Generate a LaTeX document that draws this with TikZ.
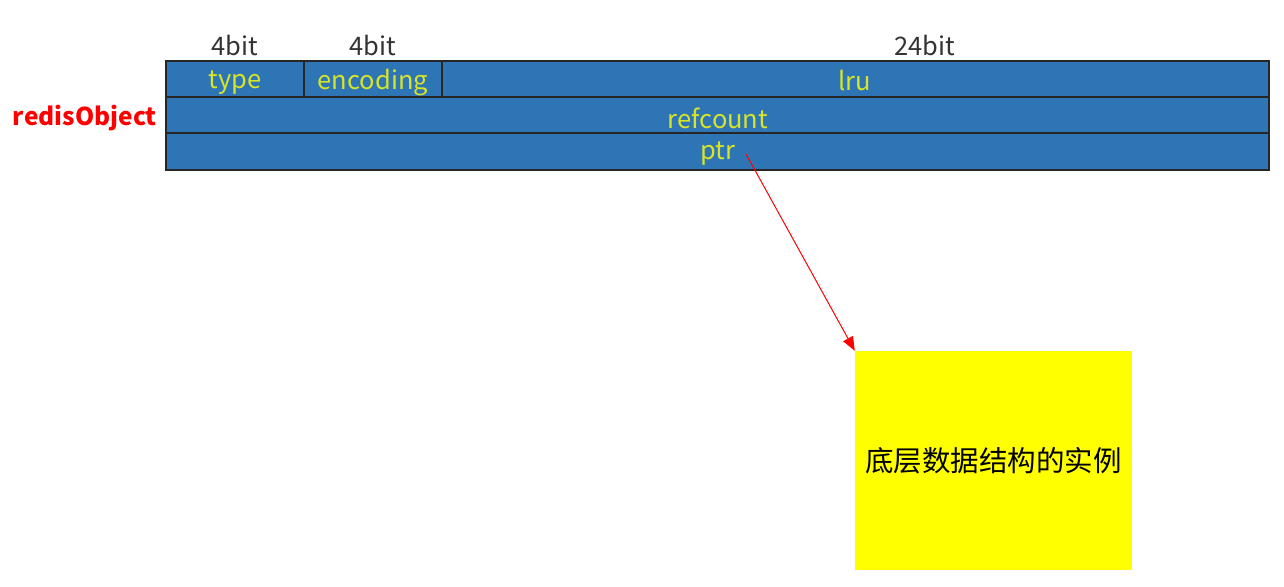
\documentclass[tikz,border=0pt]{standalone}
\usepackage{fontspec}
\setmainfont{Noto Sans CJK SC}
\newfontfamily\cjk{Noto Sans CJK SC}
\usetikzlibrary{arrows.meta}
\definecolor{cellblue}{RGB}{46,117,182}
\definecolor{celltext}{RGB}{215,228,40}
\definecolor{boxyellow}{RGB}{255,255,0}
\begin{document}
\begin{tikzpicture}[x=1pt,y=-1pt,
  cell/.style={draw=black!85,line width=1.2pt,fill=cellblue},
  celllabel/.style={text=celltext,font=\fontsize{25.5}{28}\selectfont,inner sep=0pt},
  bitlabel/.style={text=black!80,font=\fontsize{25.5}{28}\selectfont,inner sep=0pt},
  ptrarrow/.style={draw=red,line width=1pt,-{Triangle[length=14pt,width=11pt]}}]
\useasboundingbox (0,0) rectangle (1284,586);
% rows
\draw[cell] (166,61) rectangle (304,97);
\draw[cell] (304,61) rectangle (442,97);
\draw[cell] (442,61) rectangle (1269,97);
\draw[cell] (166,97) rectangle (1269,133);
\draw[cell] (166,133) rectangle (1269,170);
% bit labels
\node[bitlabel] (b1) at (235,46) {4bit};
\node[bitlabel] (b2) at (373,46) {4bit};
\node[bitlabel] (b3) at (925,46) {24bit};
% cell labels
\node[celllabel] (type) at (235,83) {type};
\node[celllabel] (enc) at (373,83) {encoding};
\node[celllabel] (lru) at (855,81) {lru};
\node[celllabel] (ref) at (718,118) {refcount};
\node[celllabel] (ptr) at (718,154) {ptr};
\node[text=red,font=\bfseries\fontsize{24.5}{27}\selectfont,inner sep=0pt,anchor=east] (ro) at (157,118) {redisObject};
% yellow box
\node[fill=boxyellow,minimum width=277pt,minimum height=219pt,inner sep=0pt,
  font=\cjk\fontsize{28.5}{31}\selectfont,text=black] (inst) at (993.5,460.5) {底层数据结构的实例};
\coordinate (ps) at (746,154);
\draw[ptrarrow] (ps) -- (inst.north west);
\end{tikzpicture}
\end{document}
